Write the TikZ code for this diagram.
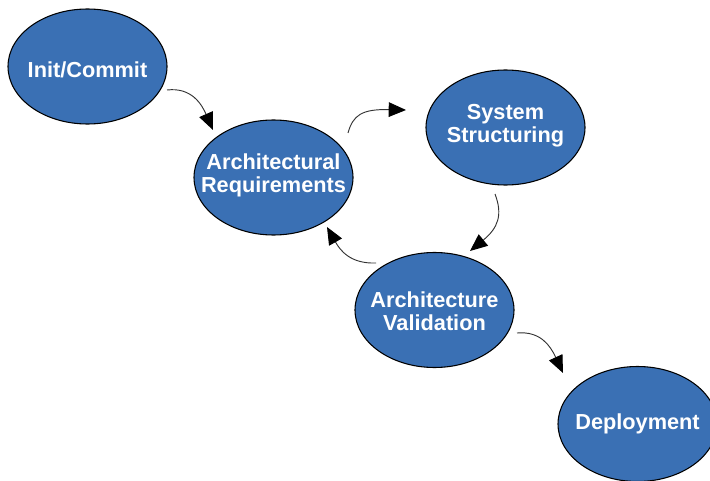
\documentclass[tikz,border=0pt]{standalone}
\usepackage{fontspec}
\setmainfont{Liberation Sans}
\usetikzlibrary{shapes.geometric,arrows.meta,calc}
\definecolor{nodeblue}{RGB}{58,112,180}
\tikzset{
  ell/.style={ellipse, draw=black, line width=0.8pt, fill=nodeblue,
    minimum width=119.25pt, minimum height=86.25pt, inner sep=0pt},
  txt/.style={text=white, align=center, inner sep=0pt,
    font=\fontsize{16.3}{17.5}\selectfont\bfseries},
  conn/.style={draw=black!80, line width=0.7pt,
    -{Triangle[length=13pt,width=11pt,color=black,fill=black]}}
}
\begin{document}
\begin{tikzpicture}[x=0.75pt,y=-0.75pt]
\useasboundingbox (0,0) rectangle (710,481);
\clip (0,0) rectangle (710,481);
\node[ell] (init) at (87.5,66.5) {};
\node[txt] (tinit) at ($(init.center)+(0,3)$) {Init/Commit};
\node[ell] (req) at (273.5,177.5) {};
\node[txt] (treq) at ($(req.center)+(0,-2)$) {Architectural\\Requirements};
\node[ell] (sys) at (505.5,127.5) {};
\node[txt] (tsys) at ($(sys.center)+(0,-2)$) {System\\Structuring};
\node[ell] (val) at (434.5,310) {};
\node[txt] (tval) at ($(val.center)+(0,1)$) {Architecture\\Validation};
\node[ell] (dep) at (637.5,424) {};
\node[txt] (tdep) at ($(dep.center)+(0,0)$) {Deployment};

\coordinate (s1) at ($(init.center)+(79.5,23.5)$);
\coordinate (e1) at ($(req.center)+(-60.5,-47.5)$);
\coordinate (s2) at ($(req.center)+(74.5,-44.5)$);
\coordinate (e2) at ($(sys.center)+(-99.5,-17.5)$);
\coordinate (s3) at ($(sys.center)+(-10.5,66.5)$);
\coordinate (e3) at ($(val.center)+(35.5,-59)$);
\coordinate (s4) at ($(val.center)+(-58.5,-47)$);
\coordinate (e4) at ($(req.center)+(53.5,49.5)$);
\coordinate (s5) at ($(val.center)+(82.5,23)$);
\coordinate (e5) at ($(dep.center)+(-74.5,-51)$);

\draw[conn] (s1) .. controls +(25,-3) and +(-11,-25) .. (e1);
\draw[conn] (s2) .. controls +(5,-18) and +(-44,-1) .. (e2);
\draw[conn] (s3) .. controls +(8,21) and +(28,-23) .. (e3);
\draw[conn] (s4) .. controls +(-26,1) and +(13,23) .. (e4);
\draw[conn] (s5) .. controls +(23,-2) and +(-13,-28) .. (e5);
\end{tikzpicture}
\end{document}
